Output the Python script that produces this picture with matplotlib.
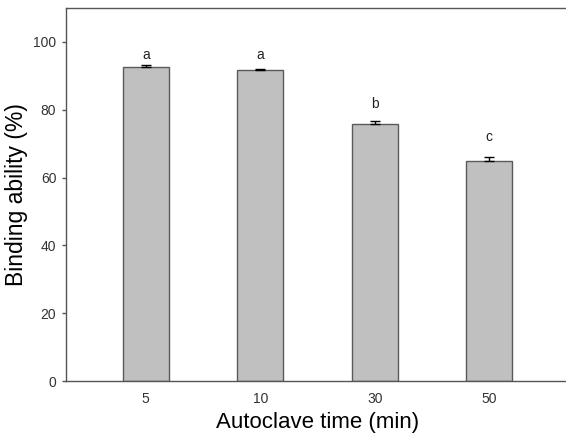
import matplotlib
matplotlib.use("Agg")
import matplotlib.pyplot as plt
import numpy as np

plt.rcParams['font.family'] = ['Liberation Sans', 'DejaVu Sans']

categories = ["5", "10", "30", "50"]
values = [92.7, 91.7, 75.9, 65.0]
errors = [0.5, 0.2, 0.7, 1.0]
letters = ["a", "a", "b", "c"]
letter_y = [95.0, 95.0, 80.5, 70.8]
yticks = [0, 20, 40, 60, 80, 100]

fig = plt.figure(figsize=(5.66, 4.36), dpi=100)
ax = fig.add_axes([66/566, 55/436, 503/566, 373/436])

x = np.arange(len(categories))
ax.bar(x, values, width=0.4, color="#c0c0c0", edgecolor="#5a5a5a", linewidth=1.0, zorder=2)
ax.errorbar(x, values, yerr=[np.zeros(len(errors)), errors], fmt="none",
            ecolor="black", elinewidth=1.0, capsize=3.3, capthick=1.0, zorder=3)
for xi, ly, lt in zip(x, letter_y, letters):
    ax.text(xi, ly, lt, ha="center", va="baseline", fontsize=10, color="#222222")

ax.set_xlim(-0.697, 3.697)
ax.set_ylim(0, 110)
ax.set_xticks(x)
ax.set_xticklabels(categories)
ax.set_yticks(yticks)
ax.tick_params(axis="x", length=0, pad=8, labelsize=10, labelcolor="#333333")
ax.tick_params(axis="y", length=3, width=1, pad=4, labelsize=10, labelcolor="#333333", color="#555555")

for s in ["left", "bottom", "top"]:
    ax.spines[s].set_color("#555555")
    ax.spines[s].set_linewidth(1.0)
ax.spines["right"].set_visible(False)

ax.set_xlabel("Autoclave time (min)", fontsize=16, labelpad=4)
ax.set_ylabel("Binding ability (%)", fontsize=16.5, labelpad=4)

fig.savefig("out.png", dpi=100)
